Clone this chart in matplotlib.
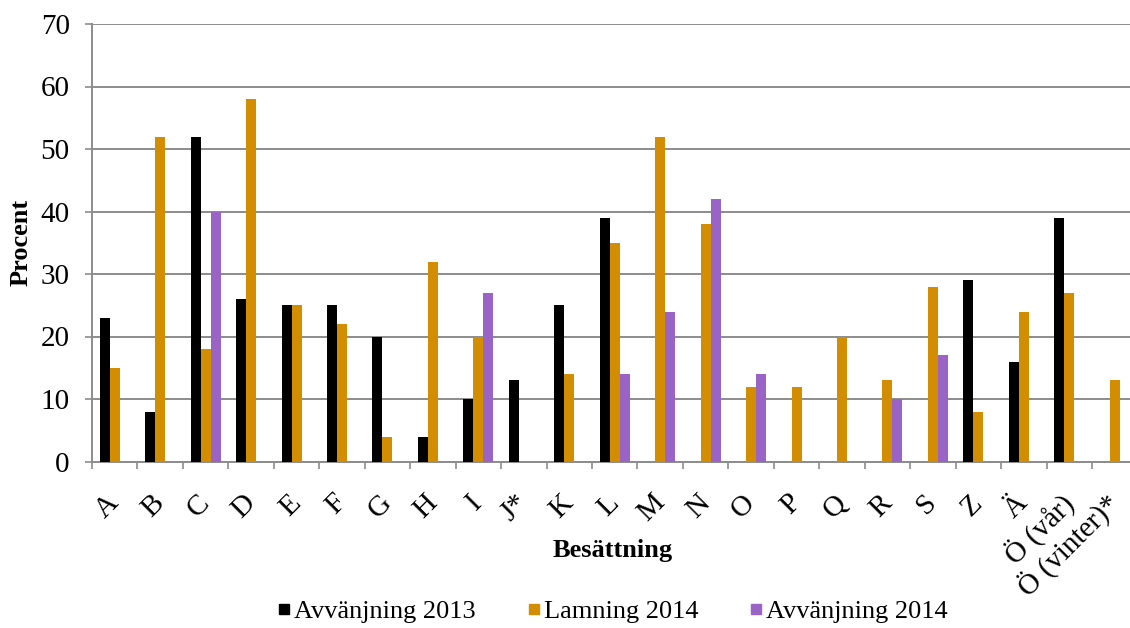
import numpy as np
import matplotlib
matplotlib.use("Agg")
import matplotlib.pyplot as plt
from matplotlib.lines import Line2D
from matplotlib.ticker import FixedLocator

plt.rcParams['font.family'] = ['Liberation Serif', 'DejaVu Serif']

categories = ["A", "B", "C", "D", "E", "F", "G", "H", "I", "J*", "K", "L", "M",
              "N", "O", "P", "Q", "R", "S", "Z", "Ä", "Ö (vår)", "Ö (vinter)*"]
nan = np.nan
avvanjning_2013 = [23, 8, 52, 26, 25, 25, 20, 4, 10, 13, 25, 39, nan,
                   nan, nan, nan, nan, nan, nan, 29, 16, 39, nan]
lamning_2014 = [15, 52, 18, 58, 25, 22, 4, 32, 20, nan, 14, 35, 52,
                38, 12, 12, 20, 13, 28, 8, 24, 27, 13]
avvanjning_2014 = [nan, nan, 40, nan, nan, nan, nan, nan, 27, nan, nan, 14, 24,
                   42, 14, nan, nan, 10, 17, nan, nan, nan, nan]
series_labels = ["Avvänjning 2013", "Lamning 2014", "Avvänjning 2014"]
yticks = [0, 10, 20, 30, 40, 50, 60, 70]

colors = ["#000000", "#D38D00", "#9A63C6"]
grid_color = "#8C8C8C"

W, H = 1130, 628
fig = plt.figure(figsize=(W / 100, H / 100), dpi=100)
ax = fig.add_axes([92 / W, (H - 461.5) / H, 1045.5 / W, 437.5 / H])

x = np.arange(len(categories))
bw = 0.22
for i, (vals, col) in enumerate(zip([avvanjning_2013, lamning_2014, avvanjning_2014], colors)):
    ax.bar(x + (i - 1) * bw, np.array(vals, dtype=float), width=bw, color=col,
           edgecolor="none", zorder=3)

ax.set_xlim(-0.5, len(categories) - 0.5)
ax.set_ylim(0, 70)
ax.set_yticks(yticks)
ax.yaxis.grid(True, color=grid_color, linewidth=1.4, zorder=0)
ax.set_axisbelow(True)

for s in ["top", "right"]:
    ax.spines[s].set_visible(False)
for s in ["left", "bottom"]:
    ax.spines[s].set_color(grid_color)
    ax.spines[s].set_linewidth(1.4)

ax.tick_params(axis="y", length=5, width=1.2, color=grid_color, pad=11,
               labelsize=21)
ax.set_xticks(x)
ax.set_xticklabels(categories, rotation=45, ha="right", va="center",
                   rotation_mode="anchor", fontsize=21)
ax.tick_params(axis="x", which="major", length=0, pad=27)
ax.xaxis.set_minor_locator(FixedLocator(np.arange(len(categories) + 1) - 0.5))
ax.tick_params(axis="x", which="minor", length=5, width=1.2, color=grid_color)

ax.set_ylabel("Procent", fontsize=19, fontweight="bold")
ax.yaxis.set_label_coords(-0.0564, 0.5)
fig.text(613 / W, 1 - 550 / H, "Besättning", fontsize=19, fontweight="bold",
         ha="center", va="center")

handles = [Line2D([], [], marker="s", linestyle="none", markersize=7.5,
                  markerfacecolor=c, markeredgecolor=c) for c in colors]
fig.legend(handles, series_labels, loc="center", bbox_to_anchor=(613 / W, 1 - 611 / H),
           ncol=3, frameon=False, fontsize=19, handlelength=0.45,
           handletextpad=0.15, columnspacing=1.97)

fig.savefig("out.png", dpi=100)
